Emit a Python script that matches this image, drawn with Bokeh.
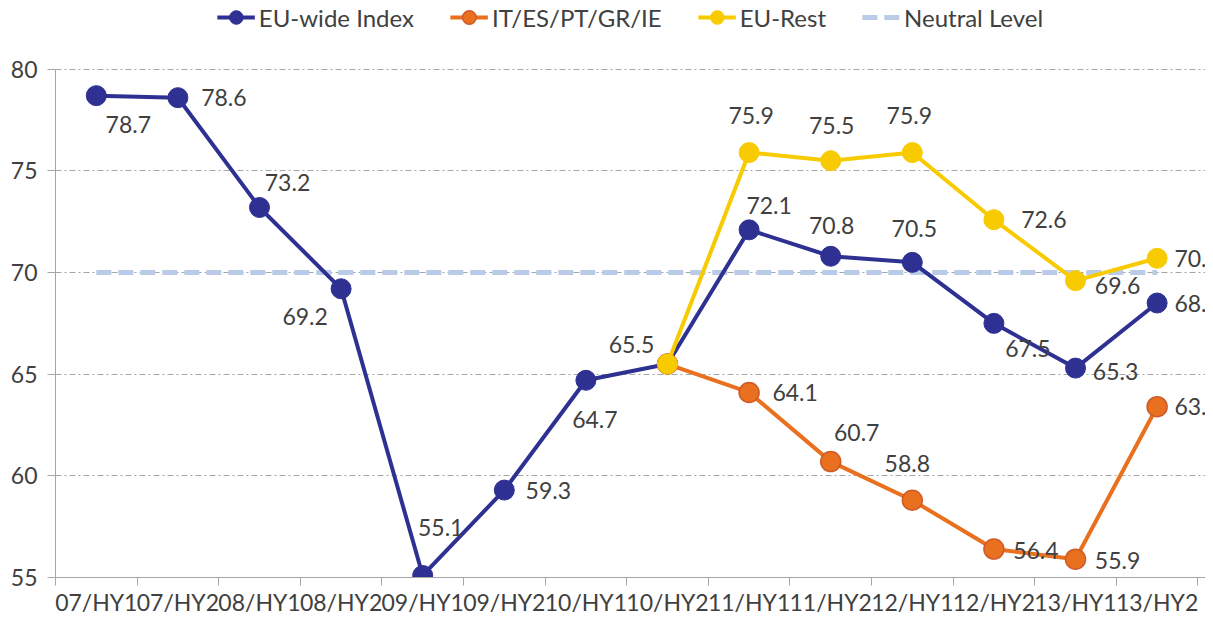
import math
from bokeh.plotting import figure
from bokeh.models import ColumnDataSource, Range1d, FixedTicker, Legend, LegendItem
from bokeh.core.properties import value
from bokeh.embed import file_html
from bokeh.resources import INLINE

NaN = float("nan")

periods = ["07/HY1", "07/HY2", "08/HY1", "08/HY2", "09/HY1", "09/HY2", "10/HY1",
           "10/HY2", "11/HY1", "11/HY2", "12/HY1", "12/HY2", "13/HY1", "13/HY2"]
eu_wide = [78.7, 78.6, 73.2, 69.2, 55.1, 59.3, 64.7, 65.5, 72.1, 70.8, 70.5, 67.5, 65.3, 68.5]
periphery = [NaN, NaN, NaN, NaN, NaN, NaN, NaN, 65.5, 64.1, 60.7, 58.8, 56.4, 55.9, 63.4]
eu_rest = [NaN, NaN, NaN, NaN, NaN, NaN, NaN, 65.5, 75.9, 75.5, 75.9, 72.6, 69.6, 70.7]
neutral = [70] * 14
y_ticks = [55, 60, 65, 70, 75, 80]

# label offsets in screen pixels (dx, dy; dy positive = down)
off_wide = [(32, 29), (46, 0), (28, -25), (-36, 28), (18, -48), (44, 0), (9, 39),
            (-36, -20), (20, -24), (1, -31), (2, -34), (34, 25), (40, 3), (40, 0)]
off_peri = [None] * 8 + [(46, 0), (26, -29), (-5, -37), (42, 1), (42, 1), (40, 0)]
off_rest = [None] * 8 + [(2, -37), (1, -35), (-3, -37), (50, 0), (42, 5), (40, 0)]

FONT = "Lato"
TXT = "#404040"
C_WIDE = "#2e3192"
C_PERI = "#e8701e"
C_REST = "#f7cb00"
C_NEUT = "#b9cbe6"
C_AX = "#a6a6a6"

x = list(range(len(periods)))

p = figure(width=1205, height=618, x_range=Range1d(-0.5, 13.593), y_range=Range1d(55, 83.38),
           output_backend="svg", toolbar_location=None,
           min_border_left=55, min_border_right=0, min_border_top=0, min_border_bottom=38)
p.outline_line_color = None
p.background_fill_color = "white"

# axes
p.xaxis.ticker = FixedTicker(ticks=x, minor_ticks=[i - 0.5 for i in range(len(periods) + 1)])
p.xaxis.major_label_overrides = {i: lab for i, lab in enumerate(periods)}
p.xaxis.major_tick_line_color = None
p.xaxis.major_tick_in = 0
p.xaxis.major_tick_out = 0
p.xaxis.minor_tick_in = 0
p.xaxis.minor_tick_out = 8
p.xaxis.minor_tick_line_color = C_AX
p.xaxis.axis_line_color = C_AX
p.xaxis.major_label_text_font = FONT
p.xaxis.major_label_text_font_size = "23px"
p.xaxis.major_label_text_color = TXT
p.xaxis.major_label_standoff = 2

p.yaxis.ticker = FixedTicker(ticks=y_ticks, minor_ticks=[])
p.yaxis.bounds = (55, 80)
p.yaxis.major_tick_in = 0
p.yaxis.major_tick_out = 8
p.yaxis.major_tick_line_color = C_AX
p.yaxis.axis_line_color = C_AX
p.yaxis.major_label_text_font = FONT
p.yaxis.major_label_text_font_size = "23px"
p.yaxis.major_label_text_color = TXT
p.yaxis.major_label_standoff = 10

p.xgrid.grid_line_color = None
p.ygrid.ticker = FixedTicker(ticks=y_ticks[1:])
p.ygrid.grid_line_color = C_AX
p.ygrid.grid_line_dash = "6 3 2 3"
p.ygrid.grid_line_width = 1

# series
r_neut = p.line(x, neutral, line_color=C_NEUT, line_width=5, line_dash="15 7")

r_wl = p.line(x, eu_wide, line_color=C_WIDE, line_width=4)
r_wm = p.scatter(x, eu_wide, size=20, fill_color=C_WIDE, line_color=C_WIDE)

r_pl = p.line(x, periphery, line_color=C_PERI, line_width=4)
r_pm = p.scatter(x, periphery, size=20, fill_color=C_PERI, line_color="#cf5a2a", line_width=1.5)

r_rl = p.line(x, eu_rest, line_color=C_REST, line_width=4)
r_rm = p.scatter(x, eu_rest, size=20, fill_color=C_REST, line_color=C_REST)

# data labels
lx, ly, lt, dx, dy = [], [], [], [], []
for vals, offs in ((eu_wide, off_wide), (periphery, off_peri), (eu_rest, off_rest)):
    for i, v in enumerate(vals):
        if offs[i] is None or math.isnan(v):
            continue
        lx.append(i)
        ly.append(v)
        lt.append(f"{v:.1f}")
        dx.append(offs[i][0])
        dy.append(offs[i][1])
src = ColumnDataSource(dict(x=lx, y=ly, t=lt, dx=dx, dy=dy))
p.text(x="x", y="y", text="t", x_offset="dx", y_offset="dy", source=src,
       text_font=value(FONT), text_font_size="23px", text_color=TXT,
       text_align="center", text_baseline="middle")

legend = Legend(items=[
    LegendItem(label="EU-wide Index", renderers=[r_wl, r_wm]),
    LegendItem(label="IT/ES/PT/GR/IE", renderers=[r_pl, r_pm]),
    LegendItem(label="EU-Rest", renderers=[r_rl, r_rm]),
    LegendItem(label="Neutral Level", renderers=[r_neut]),
], orientation="horizontal", location="top_center")
legend.label_text_font = FONT
legend.label_text_font_size = "24px"
legend.label_text_color = TXT
legend.glyph_width = 38
legend.glyph_height = 34
legend.label_standoff = 4
legend.spacing = 36
legend.padding = 0
legend.margin = 0
legend.border_line_color = None
legend.background_fill_alpha = 0
p.add_layout(legend, "center")

open("out.html", "w").write(file_html(p, INLINE))
